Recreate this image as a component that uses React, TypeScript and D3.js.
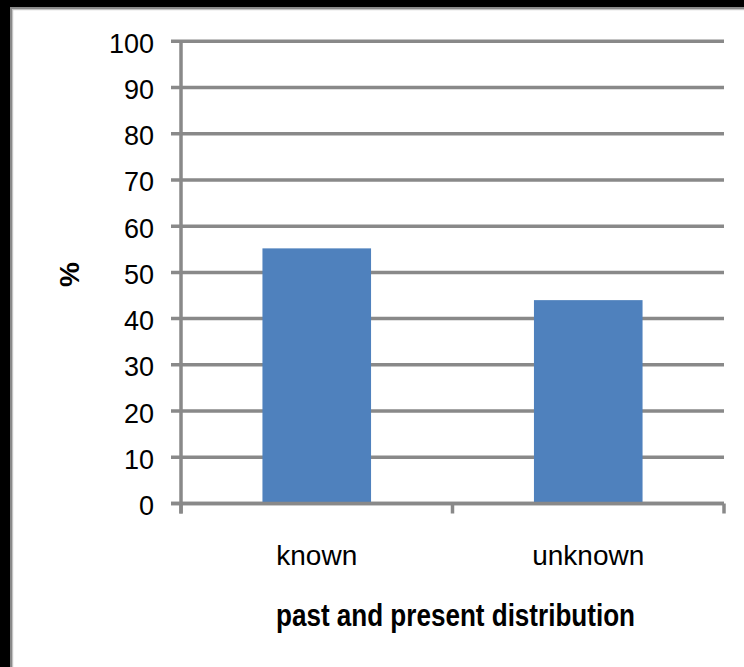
import React from "react";
import * as d3 from "d3";

// Share of records by distribution status
const categories = ["known", "unknown"];
const values = [55.2, 44.0];
const yTicks = [0, 10, 20, 30, 40, 50, 60, 70, 80, 90, 100];
const xTitle = "past and present distribution";
const yTitle = "%";

const W = 744;
const H = 667;
const plot = { left: 181, right: 724, top: 41.3, bottom: 503.5 };
const GRID = "#898989";
const BAR = "#4f81bd";
const FONT = "'Liberation Sans', Arial, Helvetica, sans-serif";

export default function App() {
  const x = d3
    .scaleBand<string>()
    .domain(categories)
    .range([plot.left, plot.right])
    .paddingInner(0.6)
    .paddingOuter(0.3);
  const xCat = d3.scaleBand<string>().domain(categories).range([plot.left, plot.right]);
  const y = d3.scaleLinear().domain([0, 100]).range([plot.bottom, plot.top]);

  const catEdges = [plot.left, ...categories.map((c) => (xCat(c) as number) + xCat.bandwidth())];

  return (
    <svg
      width={W}
      height={H}
      viewBox={`0 0 ${W} ${H}`}
      style={{ position: "absolute", left: 0, top: 0, background: "#fff" }}
    >
      {/* outer frame: dark band on top and left */}
      <rect x={0} y={0} width={W} height={H} fill="#fff" />
      <rect x={0} y={0} width={W} height={7} fill="#000" />
      <rect x={0} y={0} width={10} height={H} fill="#000" />
      <rect x={10} y={7} width={W - 10} height={2} fill="#8a8a8a" />
      <rect x={10} y={9} width={W - 10} height={1.2} fill="#c4c4c4" />
      <rect x={10} y={7} width={2} height={H - 7} fill="#8a8a8a" />
      <rect x={12} y={9} width={1.2} height={H - 9} fill="#c4c4c4" />

      {/* horizontal gridlines with left tick marks */}
      {yTicks.map((t) => (
        <line
          key={`g${t}`}
          x1={plot.left - 10}
          x2={plot.right}
          y1={y(t)}
          y2={y(t)}
          stroke={GRID}
          strokeWidth={3.5}
        />
      ))}

      {/* bars */}
      {categories.map((c, i) => (
        <rect
          key={c}
          x={x(c)}
          y={y(values[i])}
          width={x.bandwidth()}
          height={y(0) - y(values[i])}
          fill={BAR}
        />
      ))}

      {/* axes */}
      <line x1={plot.left} x2={plot.left} y1={plot.top} y2={plot.bottom + 10} stroke={GRID} strokeWidth={3.5} />
      <line x1={plot.left - 10} x2={plot.right} y1={y(0)} y2={y(0)} stroke={GRID} strokeWidth={3.5} />
      {catEdges.map((e, i) => (
        <line key={`t${i}`} x1={e} x2={e} y1={y(0)} y2={y(0) + 10} stroke={GRID} strokeWidth={3.5} />
      ))}

      {/* y tick labels */}
      {yTicks.map((t) => (
        <text
          key={`l${t}`}
          x={154}
          y={y(t) + 11.5}
          textAnchor="end"
          fontFamily={FONT}
          fontSize={27}
          fill="#000"
        >
          {t}
        </text>
      ))}

      {/* category labels */}
      {categories.map((c) => (
        <text
          key={`c${c}`}
          x={(xCat(c) as number) + xCat.bandwidth() / 2}
          y={565}
          textAnchor="middle"
          fontFamily={FONT}
          fontSize={28}
          fill="#000"
        >
          {c}
        </text>
      ))}

      {/* axis titles */}
      <text
        x={455.5}
        y={626}
        textAnchor="middle"
        fontFamily={FONT}
        fontSize={31}
        fontWeight="bold"
        textLength={359}
        lengthAdjust="spacingAndGlyphs"
        fill="#000"
      >
        {xTitle}
      </text>
      <text
        transform="translate(79,274.5) rotate(-90)"
        textAnchor="middle"
        fontFamily={FONT}
        fontSize={28}
        fontWeight="bold"
        fill="#000"
      >
        {yTitle}
      </text>
    </svg>
  );
}
